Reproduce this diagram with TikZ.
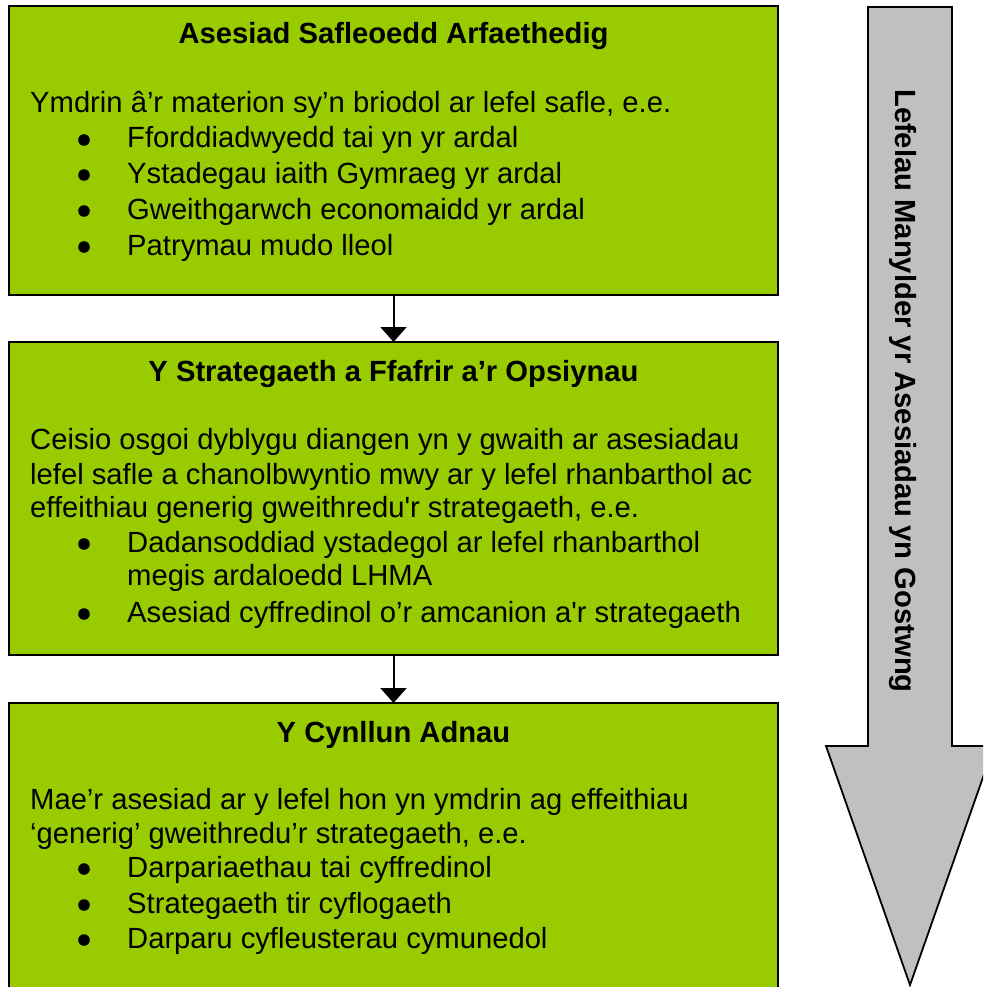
\documentclass[tikz,border=0pt]{standalone}
\usepackage{fontspec}
\newfontfamily\arialf{Liberation Sans}
\usetikzlibrary{arrows.meta}
\definecolor{boxgreen}{RGB}{153,204,0}
\definecolor{arrowgray}{RGB}{192,192,192}
\tikzset{
  box/.style={draw=black, line width=1.8pt, fill=boxgreen, inner sep=0pt, outer sep=0pt, minimum width=769pt},
  txt/.style={anchor=base west, inner sep=0pt, font=\arialf\fontsize{29.2}{35}\selectfont},
  ttl/.style={anchor=base, inner sep=0pt, font=\arialf\bfseries\fontsize{29.2}{35}\selectfont},
  dot/.style={fill=black, draw=none},
  conn/.style={line width=2pt, -{Triangle[width=26pt,length=15pt]}},
}
\begin{document}
\begin{tikzpicture}[x=1pt,y=-1pt]
\useasboundingbox (0,0) rectangle (983,987);
\clip (0,0) rectangle (983,987);
% boxes
\node[box, minimum height=289pt] (b1) at (393.5,150.5) {};
\node[box, minimum height=313pt] (b2) at (393.5,498.5) {};
\node[box, minimum height=307pt] (b3) at (393.5,856.5) {};
% connectors
\draw[conn] (b1.south) -- (b2.north);
\draw[conn] (b2.south) -- (b3.north);
% big gray arrow
\draw[line width=1.8pt, fill=arrowgray, line join=miter]
  (868,7) -- (952,7) -- (952,746) -- (994,746) -- (910,985) -- (826,746) -- (868,746) -- cycle;
\node[anchor=center, inner sep=0pt, rotate=-90, font=\arialf\bfseries\fontsize{29.2}{35}\selectfont] (lbl) at (903,391) {Lefelau Manylder yr Asesiadau yn Gostwng};
% box 1 text
\node[ttl] (t1) at (393.5,44) {Asesiad Safleoedd Arfaethedig};
\node[txt] (p11) at (30,113) {Ymdrin â’r materion sy’n briodol ar lefel safle, e.e.};
\node[txt] (i11) at (127,148) {Fforddiadwyedd tai yn yr ardal};
\node[txt] (i12) at (127,183) {Ystadegau iaith Gymraeg yr ardal};
\node[txt] (i13) at (127,219) {Gweithgarwch economaidd yr ardal};
\node[txt] (i14) at (127,255) {Patrymau mudo lleol};
\foreach \y in {148,183,219,255} \fill[dot] (84,\y-8) circle[radius=5.8pt];
% box 2 text
\node[ttl] (t2) at (393.5,381) {Y Strategaeth a Ffafrir a’r Opsiynau};
\node[txt] (p21) at (30,449) {Ceisio osgoi dyblygu diangen yn y gwaith ar asesiadau};
\node[txt] (p22) at (30,484) {lefel safle a chanolbwyntio mwy ar y lefel rhanbarthol ac};
\node[txt] (p23) at (30,517) {effeithiau generig gweithredu'r strategaeth, e.e.};
\node[txt] (i21) at (127,552) {Dadansoddiad ystadegol ar lefel rhanbarthol};
\node[txt] (i21b) at (127,585) {megis ardaloedd LHMA};
\node[txt] (i22) at (127,622) {Asesiad cyffredinol o’r amcanion a'r strategaeth};
\foreach \y in {552,622} \fill[dot] (84,\y-8) circle[radius=5.8pt];
% box 3 text
\node[ttl] (t3) at (393.5,742) {Y Cynllun Adnau};
\node[txt] (p31) at (30,809) {Mae’r asesiad ar y lefel hon yn ymdrin ag effeithiau};
\node[txt] (p32) at (30,843) {‘generig’ gweithredu’r strategaeth, e.e.};
\node[txt] (i31) at (127,877) {Darpariaethau tai cyffredinol};
\node[txt] (i32) at (127,913) {Strategaeth tir cyflogaeth};
\node[txt] (i33) at (127,948) {Darparu cyfleusterau cymunedol};
\foreach \y in {877,913,948} \fill[dot] (84,\y-8) circle[radius=5.8pt];
\end{tikzpicture}
\end{document}
